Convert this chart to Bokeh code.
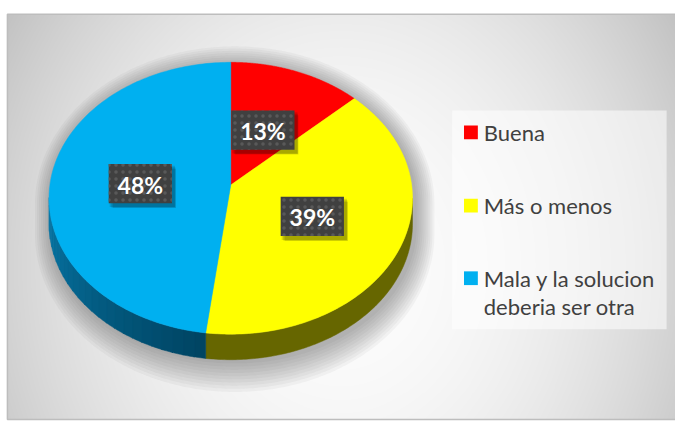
import numpy as np
from bokeh.plotting import figure
from bokeh.models import Range1d
from bokeh.embed import file_html
from bokeh.resources import INLINE
from bokeh.core.properties import value

# ---------------- data ----------------
categories = ["Buena", "Más o menos", "Mala y la solucion deberia ser otra"]
legend_lines = [["Buena"], ["Más o menos"], ["Mala y la solucion", "deberia ser otra"]]
values = [13, 39, 48]
labels = ["13%", "39%", "48%"]
top_colors = ["#ff0000", "#ffff00", "#00b0f0"]
side_colors = ["#800000", "#666600", "#005a7e"]

# ---------------- figure ----------------
W, H = 675, 421
def Y(sy):
    return 429 - np.asarray(sy, dtype=float)

p = figure(width=W, height=H, x_range=Range1d(0, 683), y_range=Range1d(0, 429),
           output_backend="svg", toolbar_location=None, min_border=0,
           x_axis_location=None, y_axis_location=None)
p.grid.visible = False
p.outline_line_color = None
p.background_fill_color = "white"
p.border_fill_color = "white"

# ---------------- background radial gradient ----------------
fx0, fx1, fy0, fy1 = 7, 683, 14, 427
nx, ny = fx1 - fx0, fy1 - fy0
gx = np.arange(nx) + fx0 + 0.5
gy = fy1 - 0.5 - np.arange(ny)
GX, GY = np.meshgrid(gx, gy)
d2 = ((GX - 345) / 400.0) ** 2 + ((GY - 270) / 470.0) ** 2
g = np.clip(253 - 58 * d2, 188, 255).astype(np.uint32)
img = ((255 << 24) | (g << 16) | (g << 8) | g).astype(np.uint32)
p.image_rgba(image=[img], x=fx0, y=float(Y(fy1)), dw=nx, dh=ny)
p.quad(left=fx0, right=fx1 + 2, bottom=float(Y(fy1)), top=float(Y(fy0)),
       fill_color=None, line_color="#bdbdbd", line_width=1.5)

# ---------------- pie geometry (perspective ellipse) ----------------
cx, cy = 233.0, 188.0
A, B, P = 183.0, 137.2, 0.0975
D = 26.0

def rim(theta_deg):
    t = np.radians(theta_deg)
    w = 1 + P * np.cos(t)
    return cx + A * np.sin(t) / w, cy - B * np.cos(t) / w

total = float(sum(values))
cum = np.concatenate([[0.0], np.cumsum(values) / total * 360.0])
vis_a = np.degrees(np.arccos(-P))
vis_b = 360.0 - vis_a

# soft shadow around the pie
back = np.linspace(vis_b - 360.0, vis_a, 200)
front = np.linspace(vis_a, vis_b, 200)
bx, by = rim(back)
fxs, fys = rim(front)
sil_x = np.concatenate([bx, fxs])
sil_y = np.concatenate([by, fys + D])
for k in range(10):
    sx = cx + 4 + (sil_x - cx) * (1.0 + k * 0.011)
    sy = cy + 4 + (sil_y - cy) * (1.0 + k * 0.018)
    p.patch(sx, Y(sy), fill_color="#555555", fill_alpha=0.05, line_color=None)

# sides
for i in range(len(values)):
    a, b = max(cum[i], vis_a), min(cum[i + 1], vis_b)
    if b <= a:
        continue
    if i == 2:
        n = 24
        edges = np.linspace(a, b, n + 1)
        c0 = np.array([0x00, 0x44, 0x62])
        c1 = np.array([0x08, 0x78, 0xa8])
        for j in range(n):
            th = np.linspace(edges[j], edges[j + 1] + 0.3, 8)
            rx, ry = rim(th)
            px = np.concatenate([rx, rx[::-1]])
            py = np.concatenate([ry, ry[::-1] + D])
            f = (j + 0.5) / n
            c = (c0 + (c1 - c0) * f).astype(int)
            col = "#%02x%02x%02x" % tuple(c)
            p.patch(px, Y(py), fill_color=col, line_color=col, line_width=0.5)
    else:
        th = np.linspace(a, b, 120)
        rx, ry = rim(th)
        px = np.concatenate([rx, rx[::-1]])
        py = np.concatenate([ry, ry[::-1] + D])
        p.patch(px, Y(py), fill_color=side_colors[i], line_color=side_colors[i], line_width=0.5)

# top faces
for i in range(len(values)):
    th = np.linspace(cum[i], cum[i + 1], 160)
    rx, ry = rim(th)
    px = np.concatenate([[cx], rx])
    py = np.concatenate([[cy], ry])
    p.patch(px, Y(py), fill_color=top_colors[i], line_color=top_colors[i], line_width=0.5)

# ---------------- data labels ----------------
label_pos = [(265.5, 132.0), (315.5, 220.0), (141.5, 186.5)]
bw, bh = 64, 40
for (lx, ly), lab in zip(label_pos, labels):
    for k in range(3):
        p.rect(x=lx + 2 + k, y=float(Y(ly + 3 + k)), width=bw + 2 - k, height=bh + 2 - k,
               fill_color="black", fill_alpha=0.13, line_color=None)
    p.rect(x=lx, y=float(Y(ly)), width=bw, height=bh, fill_color="#404040",
           line_color=None, hatch_pattern="dot", hatch_color="#595959",
           hatch_scale=7, hatch_weight=2)
    p.text(x=[lx], y=[float(Y(ly + 1))], text=[lab], text_color="white",
           text_font=value("Lato"), text_font_style="bold", text_font_size="23px",
           text_align="center", text_baseline="middle")

# ---------------- legend ----------------
p.quad(left=457, right=674, top=float(Y(112)), bottom=float(Y(335)),
       fill_color="white", fill_alpha=0.55, line_color=None)
leg_y = [134.5, 209.0, 283.0]
for i, lines in enumerate(legend_lines):
    p.rect(x=476, y=float(Y(leg_y[i])), width=14, height=14,
           fill_color=top_colors[i], line_color=None)
    for k, t in enumerate(lines):
        p.text(x=[489], y=[float(Y(leg_y[i] + k * 29))], text=[t], text_color="#404040",
               text_font=value("Lato"), text_font_size="22px",
               text_align="left", text_baseline="middle")

open("out.html", "w").write(file_html(p, INLINE))
